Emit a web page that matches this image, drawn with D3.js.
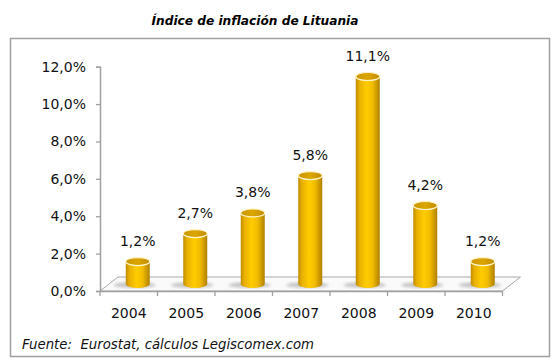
<!DOCTYPE html>
<html><head><meta charset="utf-8">
<script src="https://cdn.jsdelivr.net/npm/d3@7"></script>
<style>body{margin:0;background:#fff}svg{display:block}text{font-family:"DejaVu Sans",Verdana,sans-serif}</style>
</head><body>
<script>
const title = "Índice de inflación de Lituania";
const source = "Fuente:  Eurostat, cálculos Legiscomex.com";
const years = ["2004","2005","2006","2007","2008","2009","2010"];
const inflation = [1.2, 2.7, 3.8, 5.8, 11.1, 4.2, 1.2];
const yTicks = [0, 2, 4, 6, 8, 10, 12];
const fmt = v => d3.format(".1f")(v).replace(".", ",") + "%";

const W = 560, H = 361;
const svg = d3.select("body").append("svg").attr("width", W).attr("height", H);
const defs = svg.append("defs");
const g1 = defs.append("linearGradient").attr("id","cyl").attr("x1","0").attr("x2","1").attr("y1","0").attr("y2","0");
[[0,"#c08c00"],[0.15,"#e8b000"],[0.45,"#ffcc00"],[0.7,"#f2bc00"],[1,"#b08000"]].forEach(([o,c])=>g1.append("stop").attr("offset",o).attr("stop-color",c));
const g2 = defs.append("linearGradient").attr("id","topg").attr("x1","0").attr("x2","1");
[[0,"#c89600"],[0.5,"#dca600"],[1,"#c08c00"]].forEach(([o,c])=>g2.append("stop").attr("offset",o).attr("stop-color",c));
defs.append("filter").attr("id","blur").append("feGaussianBlur").attr("stdDeviation",1.6);

// frame
svg.append("rect").attr("x",10.5).attr("y",38.5).attr("width",539).attr("height",318)
  .attr("fill","#fff").attr("stroke","#a0a0a0").attr("stroke-width",1.5);

svg.append("text").attr("x",255).attr("y",25).attr("text-anchor","middle")
  .attr("font-size",12).attr("font-weight","bold").attr("font-style","italic")
  .attr("textLength",207).attr("lengthAdjust","spacingAndGlyphs").text(title);

const x0 = 100, x1 = 502.5, dx = 18, dy = -14;
const x = d3.scaleBand().domain(years).range([x0, x1]).padding(0);
const y = d3.scaleLinear().domain([0, 12]).range([291, 66.7]);

// floor
const fy = y(0);
svg.append("path").attr("d",`M${x0},${fy}L${x1},${fy}L${x1+dx},${fy+dy}L${x0+dx},${fy+dy}Z`)
  .attr("fill","#fafafa").attr("stroke","#a8a8a8").attr("stroke-width",1);

// y axis
const ya = svg.append("g").attr("transform",`translate(${x0},0)`)
  .call(d3.axisLeft(y).tickValues(yTicks).tickFormat(fmt).tickSize(4).tickPadding(10));
ya.select(".domain").attr("stroke","#a0a0a0").attr("stroke-width",1.5);
ya.selectAll(".tick line").attr("stroke","#a0a0a0").attr("stroke-width",1.3);
ya.selectAll("text").attr("font-size",14).attr("fill","#111").attr("font-family","DejaVu Sans, Verdana, sans-serif");

// x axis
const xa = svg.append("g").attr("transform",`translate(0,${fy})`)
  .call(d3.axisBottom(x).tickSize(0).tickPadding(17));
xa.select(".domain").attr("stroke","#a0a0a0").attr("stroke-width",1.5);
xa.selectAll("text").attr("font-size",14).attr("fill","#111").attr("font-family","DejaVu Sans, Verdana, sans-serif");
svg.append("g").selectAll("line").data(years.concat(["end"])).join("line")
  .attr("x1",(d,i)=>x0+i*x.bandwidth()).attr("x2",(d,i)=>x0+i*x.bandwidth())
  .attr("y1",fy).attr("y2",fy+5).attr("stroke","#a0a0a0").attr("stroke-width",1.3);

// bars
const rx = 12, ry = 4;
const bars = svg.append("g").selectAll("g").data(years.map((yr,i)=>({yr, v: inflation[i]}))).join("g");
bars.each(function(d){
  const gg = d3.select(this);
  const cx = x(d.yr) + x.bandwidth()/2 + dx/2;
  const yb = y(0) + dy/2, yt = y(d.v) + dy/2;
  gg.append("ellipse").attr("cx",cx-3).attr("cy",yb+1).attr("rx",rx+9).attr("ry",3)
    .attr("fill","#b8b8b8").attr("filter","url(#blur)").attr("opacity",0.8);
  gg.append("path").attr("d",`M${cx-rx},${yt}L${cx-rx},${yb}A${rx},${ry} 0 0 0 ${cx+rx},${yb}L${cx+rx},${yt}Z`)
    .attr("fill","url(#cyl)");
  gg.append("ellipse").attr("cx",cx).attr("cy",yt).attr("rx",rx).attr("ry",ry)
    .attr("fill","url(#topg)").attr("stroke","#fff4c8").attr("stroke-width",1.2);
  gg.append("text").attr("x",cx).attr("y",yt-15.5).attr("text-anchor","middle")
    .attr("font-size",14).attr("fill","#111").text(fmt(d.v));
});

svg.append("text").attr("x",22).attr("y",349).attr("font-size",13.5).attr("font-style","italic")
  .attr("fill","#111").style("white-space","pre").attr("xml:space","preserve")
  .attr("textLength",292).attr("lengthAdjust","spacingAndGlyphs").text(source);
</script>
</body></html>
